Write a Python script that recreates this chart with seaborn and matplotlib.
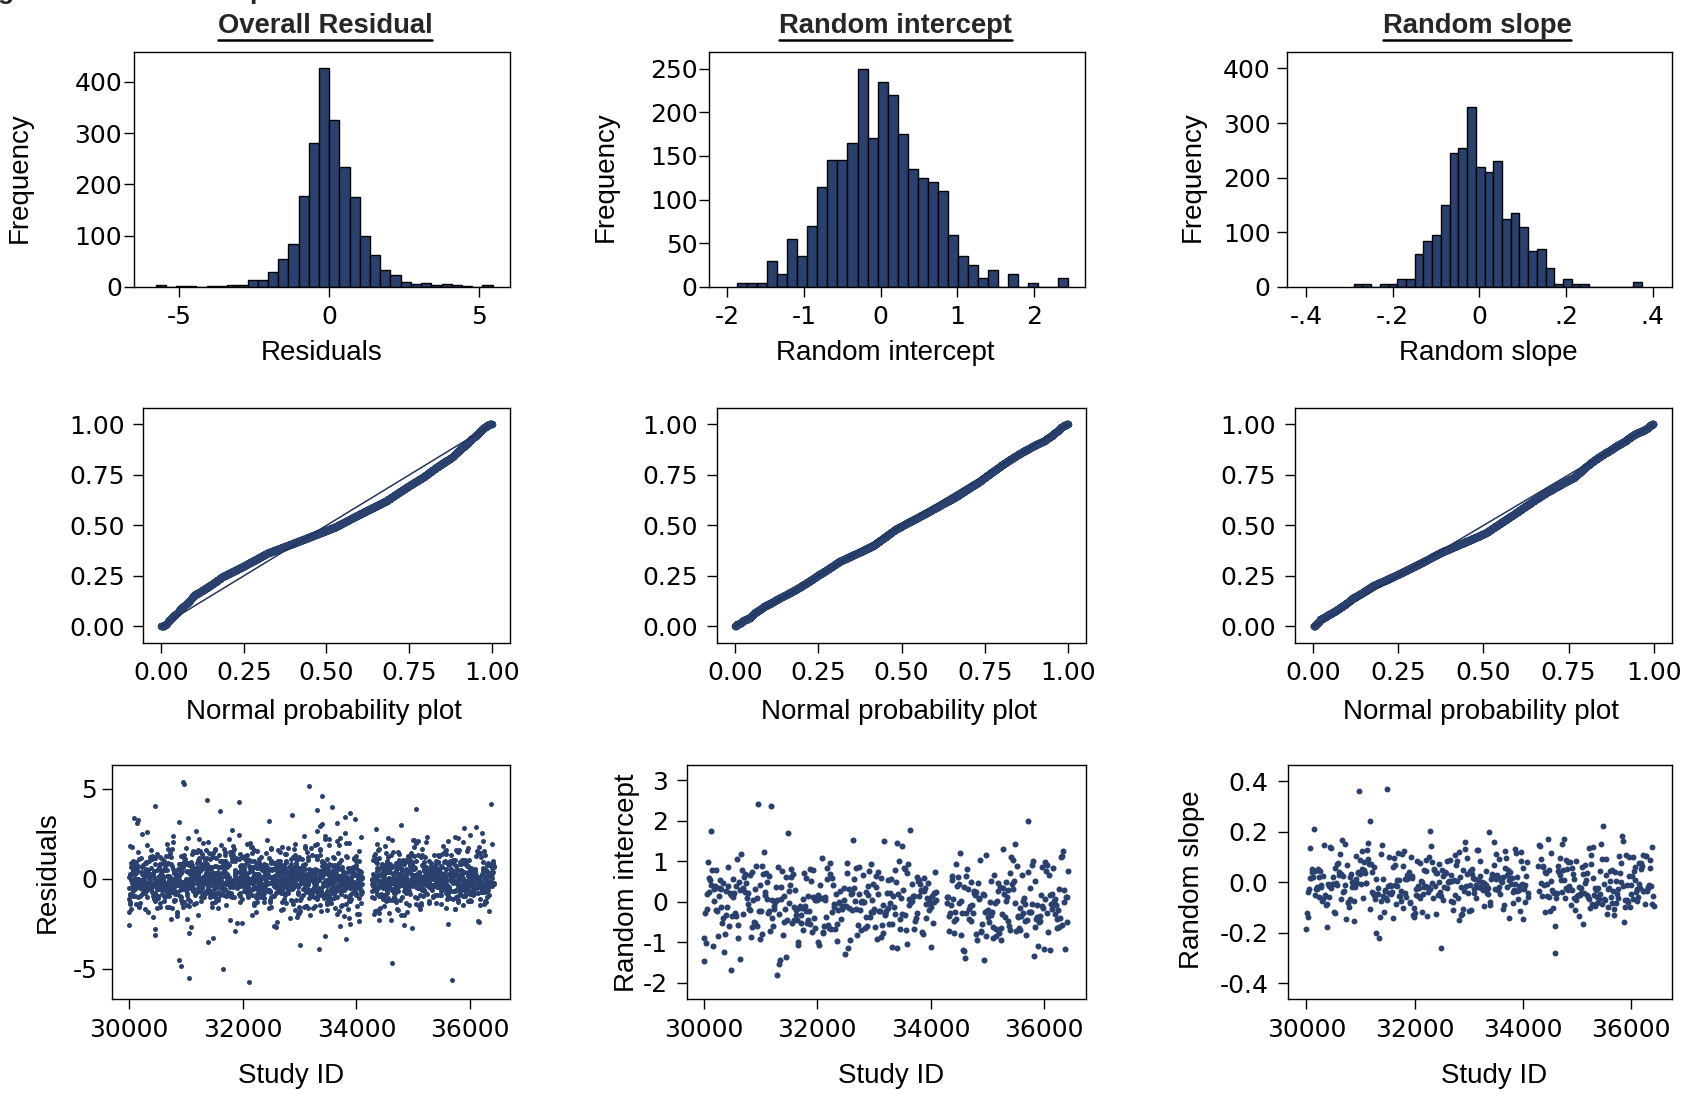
import math
import numpy as np
import matplotlib as mpl
mpl.use('Agg')
import matplotlib.pyplot as plt
from matplotlib.lines import Line2D
import seaborn as sns

# ------------------------------------------------------------------
# Data
# ------------------------------------------------------------------
# overall residual histogram (observation level)
resid_first_edge = -5.78
resid_bin_width = 0.34
resid_counts = [3, 0, 2, 2, 0, 1, 2, 4, 3, 13, 13, 29, 55, 84, 178, 280, 427,
                325, 233, 176, 100, 62, 33, 23, 10, 6, 7, 3, 5, 3, 1, 0, 3]

# random intercept histogram (observation level, 5 obs per subject)
icpt_first_edge = -1.874
icpt_bin_width = 0.1311
icpt_counts = [5, 5, 5, 30, 15, 55, 35, 70, 115, 145, 145, 165, 250, 170, 235,
               220, 175, 135, 125, 120, 110, 60, 35, 25, 10, 20, 0, 15, 0, 5,
               0, 0, 10]

# random slope histogram (observation level, 5 obs per subject)
slope_first_edge = -0.290
slope_bin_width = 0.02014
slope_counts = [5, 5, 0, 5, 5, 15, 15, 60, 85, 95, 150, 245, 255, 330, 220,
                210, 230, 125, 135, 110, 65, 70, 35, 5, 15, 5, 5, 0, 0, 0, 0,
                0, 10]

obs_per_subject = 5
# study id blocks (gap around 34100-34300) and subjects in each block
id_blocks = [(30000, 34100), (34280, 36420)]
id_block_sizes = [330, 172]
resid_extra_every = 6      # every 6th subject has a 5th residual, others 4

# points standing clear of the main band: (study id, value)
resid_outliers = [(30949, 5.45), (30973, 5.27), (31371, 4.42), (31928, 4.29),
                  (30451, 4.08), (33393, 4.42), (33317, 3.86), (31594, 3.77),
                  (33891, 3.73), (32866, 3.64), (33979, 3.31), (32473, 3.22),
                  (33657, 3.12), (30141, 3.12), (30879, 3.18), (33803, 3.46),
                  (34348, 2.75), (36106, 2.85),
                  (30891, -4.55), (30914, -4.81), (31061, -5.45), (31641, -4.9),
                  (32121, -5.79), (34624, -4.45), (35684, -5.05),
                  (31389, -3.51), (31489, -3.29), (33000, -3.51),
                  (33346, -3.79), (33457, -3.23), (33821, -3.6), (30451, -3.42),
                  (30451, -2.83), (31049, -3.16), (31858, -3.01),
                  (33715, -2.61), (33891, -2.5), (34975, -3.1), (34840, -2.59),
                  (32543, -2.59), (32590, -2.83), (31096, -2.68)]
icpt_outliers = [(30965, 2.44), (31182, 2.34), (30129, 1.75), (31488, 1.67),
                 (33635, 1.67), (35711, 2.04), (33412, 1.45), (33488, 1.37),
                 (35488, 1.43), (35270, 1.29), (33176, 1.41), (30476, -1.70),
                 (31282, -1.86), (31329, -1.58), (31341, -1.45), (31447, -1.37),
                 (34565, -1.20), (34606, -1.39), (34947, -1.42), (35823, -1.31),
                 (30635, -1.37), (30365, -1.23), (30165, -1.10), (32547, -1.15),
                 (33400, -1.15), (34000, -1.12), (36370, -1.17), (36106, -1.19),
                 (30665, 1.18), (31059, 1.24), (34518, 1.23), (36311, 1.14)]
slope_outliers = [(30969, 0.358), (31481, 0.375), (31185, 0.239),
                  (30136, 0.209), (33377, 0.200), (35482, 0.229),
                  (35833, 0.193), (34463, 0.184), (30660, 0.167),
                  (32481, -0.247), (34587, -0.288), (34611, -0.175),
                  (30370, -0.182), (31278, -0.199), (31340, -0.221),
                  (35111, -0.164), (35864, -0.164), (30883, -0.153)]

NAVY = '#2a4170'
W, H = 1708, 1094


def unbin(first_edge, width, counts):
    vals = []
    for k, c in enumerate(counts):
        if c == 0:
            continue
        lo = first_edge + k * width
        vals.extend(lo + width * (np.arange(c) + 0.5) / c)
    return np.array(vals)


def edges(first_edge, width, counts):
    return first_edge + width * np.arange(len(counts) + 1)


def pnorm_points(vals):
    v = np.sort(vals)
    n = len(v)
    z = (v - v.mean()) / v.std(ddof=1)
    y = 0.5 * (1 + np.array([math.erf(t / math.sqrt(2)) for t in z]))
    x = np.arange(1, n + 1) / (n + 1)
    return x, y


def place(vals, ids, fixed, p):
    """Pair histogram values with study ids; listed outliers go where
    they sit in the picture, the rest are dealt out across the ids."""
    vals = list(np.sort(vals))
    ids = list(ids)
    xs, ys = [], []
    for fid, fv in fixed:
        j = int(np.argmin(np.abs(np.array(vals) - fv)))
        i = int(np.argmin(np.abs(np.array(ids) - fid)))
        ys.append(vals.pop(j))
        xs.append(ids.pop(i))
    n = len(vals)
    k = np.arange(n, dtype=np.int64)
    key = (37 * k ** 3 + 11 * k) % p
    rank = np.argsort(np.argsort(key, kind='stable'), kind='stable')
    xs.extend(ids)
    ys.extend(np.array(vals)[rank])
    return np.array(xs), np.array(ys)


# ------------------------------------------------------------------
# Derived series
# ------------------------------------------------------------------
resid_vals = unbin(resid_first_edge, resid_bin_width, resid_counts)
icpt_obs = unbin(icpt_first_edge, icpt_bin_width, icpt_counts)
slope_obs = unbin(slope_first_edge, slope_bin_width, slope_counts)
icpt_subj = unbin(icpt_first_edge, icpt_bin_width,
                  [c // obs_per_subject for c in icpt_counts])
slope_subj = unbin(slope_first_edge, slope_bin_width,
                   [c // obs_per_subject for c in slope_counts])

subj_ids = np.concatenate([np.linspace(a, b, n).round()
                           for (a, b), n in zip(id_blocks, id_block_sizes)])
n_subj = len(subj_ids)
n_extra = len(resid_vals) - 4 * n_subj
per_subj = np.full(n_subj, 4)
per_subj[::resid_extra_every][:n_extra] += 1
resid_ids = np.repeat(subj_ids, per_subj)[:len(resid_vals)]

rx, ry = place(resid_vals, resid_ids, resid_outliers, 4099)
ix, iy = place(icpt_subj, subj_ids, icpt_outliers, 1009)
sx, sy = place(slope_subj, subj_ids, slope_outliers, 1013)

# ------------------------------------------------------------------
# Style
# ------------------------------------------------------------------
sns.set_style('ticks')
plt.rcParams['font.family'] = ['Liberation Sans', 'DejaVu Sans']
plt.rcParams['axes.linewidth'] = 1.0
plt.rcParams['xtick.major.width'] = 1.0
plt.rcParams['ytick.major.width'] = 1.0
plt.rcParams['xtick.major.size'] = 7
plt.rcParams['ytick.major.size'] = 7
plt.rcParams['xtick.labelsize'] = 18
plt.rcParams['ytick.labelsize'] = 18
plt.rcParams['axes.labelsize'] = 20
plt.rcParams['xtick.color'] = 'black'
plt.rcParams['ytick.color'] = 'black'
plt.rcParams['axes.edgecolor'] = 'black'
plt.rcParams['axes.labelcolor'] = 'black'

fig = plt.figure(figsize=(W / 100, H / 100), dpi=100)


def panel(box):
    l, t, r, b = box
    return fig.add_axes([l / W, 1 - b / H, (r - l) / W, (b - t) / H])


def finish(ax, xlabel, xl_pos, ylabel=None, yl_pos=None, ypad=2, xpad=6):
    ax.set_xlabel(xlabel)
    ax.xaxis.set_label_coords(*xl_pos)
    if ylabel:
        ax.set_ylabel(ylabel)
        ax.yaxis.set_label_coords(*yl_pos)
    else:
        ax.set_ylabel('')
    ax.tick_params(axis='y', pad=ypad, labelfontfamily='DejaVu Sans')
    ax.tick_params(axis='x', pad=xpad, labelfontfamily='DejaVu Sans')
    for s in ax.spines.values():
        s.set_visible(True)


# ---- row 1: histograms -------------------------------------------
ax = panel((134, 52, 510, 287))
sns.histplot(x=resid_vals, bins=edges(resid_first_edge, resid_bin_width,
             resid_counts), ax=ax, color=NAVY, edgecolor='black',
             linewidth=1.0, alpha=1)
ax.set_xlim(-6.5, 6.02)
ax.set_ylim(0, 458)
ax.set_xticks([-5, 0, 5])
ax.set_xticklabels(['-5', '0', '5'])
ax.set_yticks([0, 100, 200, 300, 400])
finish(ax, 'Residuals', (0.499, -0.225), 'Frequency', (-0.269, 0.466), ypad=1.5)

ax = panel((709, 52, 1085, 287))
sns.histplot(x=icpt_obs, bins=edges(icpt_first_edge, icpt_bin_width,
             icpt_counts), ax=ax, color=NAVY, edgecolor='black',
             linewidth=1.0, alpha=1)
ax.set_xlim(-2.24, 2.67)
ax.set_ylim(0, 269)
ax.set_xticks([-2, -1, 0, 1, 2])
ax.set_xticklabels(['-2', '-1', '0', '1', '2'])
ax.set_yticks([0, 50, 100, 150, 200, 250])
finish(ax, 'Random intercept', (0.470, -0.225), 'Frequency', (-0.240, 0.468),
       ypad=1.2)

ax = panel((1287, 52, 1672, 287))
sns.histplot(x=slope_obs, bins=edges(slope_first_edge, slope_bin_width,
             slope_counts), ax=ax, color=NAVY, edgecolor='black',
             linewidth=1.0, alpha=1)
ax.set_xlim(-0.444, 0.445)
ax.set_ylim(0, 430)
ax.set_xticks([-0.4, -0.2, 0, 0.2, 0.4])
ax.set_xticklabels(['-.4', '-.2', '0', '.2', '.4'])
ax.set_yticks([0, 100, 200, 300, 400])
finish(ax, 'Random slope', (0.523, -0.225), 'Frequency', (-0.212, 0.468),
       ypad=4.8)

# ---- row 2: normal probability plots -----------------------------
pp_boxes = [(143, 408, 510, 643), (717, 408, 1086, 643), (1295, 408, 1672, 643)]
pp_data = [resid_vals, icpt_obs, slope_obs]
pp_ypad = [6, 6.7, 6.5]
for box, vals, yp in zip(pp_boxes, pp_data, pp_ypad):
    ax = panel(box)
    px, py = pnorm_points(vals)
    sns.scatterplot(x=px, y=py, ax=ax, color=NAVY, s=28, linewidth=0,
                    edgecolor=None)
    ax.plot([0, 1], [0, 1], color='#22355c', lw=1.1, zorder=3)
    ax.set_xlim(-0.054, 1.054)
    ax.set_ylim(-0.082, 1.081)
    ticks = [0, 0.25, 0.5, 0.75, 1.0]
    ax.set_xticks(ticks)
    ax.set_yticks(ticks)
    ax.set_xticklabels(['%.2f' % t for t in ticks])
    ax.set_yticklabels(['%.2f' % t for t in ticks])
    finish(ax, 'Normal probability plot', (0.492, -0.24), ypad=yp)

# ---- row 3: against study id -------------------------------------
xt = [30000, 32000, 34000, 36000]

ax = panel((112, 765, 510, 999))
sns.scatterplot(x=rx, y=ry, ax=ax, color=NAVY, s=13,
                linewidth=0, edgecolor=None)
ax.set_xlim(29700, 36703)
ax.set_ylim(-6.68, 6.33)
ax.set_xticks(xt)
ax.set_yticks([-5, 0, 5])
ax.set_yticklabels(['-5', '0', '5'])
finish(ax, 'Study ID', (0.45, -0.275), 'Residuals', (-0.128, 0.541),
       ypad=3.6, xpad=7)

ax = panel((687, 765, 1086, 999))
sns.scatterplot(x=ix, y=iy, ax=ax, color=NAVY, s=19,
                linewidth=0, edgecolor=None)
ax.set_xlim(29706, 36737)
ax.set_ylim(-2.40, 3.37)
ax.set_xticks(xt)
ax.set_yticks([-2, -1, 0, 1, 2, 3])
ax.set_yticklabels(['-2', '-1', '0', '1', '2', '3'])
finish(ax, 'Study ID', (0.512, -0.275), 'Random intercept', (-0.119, 0.4985),
       ypad=6.5, xpad=7)

ax = panel((1288, 765, 1672, 999))
sns.scatterplot(x=sx, y=sy, ax=ax, color=NAVY, s=18,
                linewidth=0, edgecolor=None)
ax.set_xlim(29660, 36759)
ax.set_ylim(-0.4625, 0.4636)
ax.set_xticks(xt)
ax.set_yticks([-0.4, -0.2, 0, 0.2, 0.4])
ax.set_yticklabels(['-0.4', '-0.2', '0.0', '0.2', '0.4'])
finish(ax, 'Study ID', (0.537, -0.275), 'Random slope', (-0.217, 0.509),
       ypad=7, xpad=7)

# ---- column titles (bold, underlined) ----------------------------
titles = [('Overall Residual', 325), ('Random intercept', 895.5),
          ('Random slope', 1477)]
tobjs = []
for txt, cx in titles:
    tobjs.append(fig.text(cx / W, 1 - 33.3 / H, txt, ha='center',
                          va='baseline', fontsize=19.7, fontweight='bold'))

# clipped remains of a caption line above the figure
fig.text(-2 / W, 1 + 1 / H, 'g', ha='left', va='baseline', fontsize=19,
         fontweight='bold')
fig.text(249 / W, 1 + 1 / H, 'p', ha='left', va='baseline', fontsize=19,
         fontweight='bold')

fig.canvas.draw()
for t in tobjs:
    bb = t.get_window_extent()
    y = 1 - 39.5 / H
    fig.add_artist(Line2D([bb.x0 / W, bb.x1 / W], [y, y], color='black',
                          lw=1.8, transform=fig.transFigure))

fig.savefig('out.png', dpi=100)
